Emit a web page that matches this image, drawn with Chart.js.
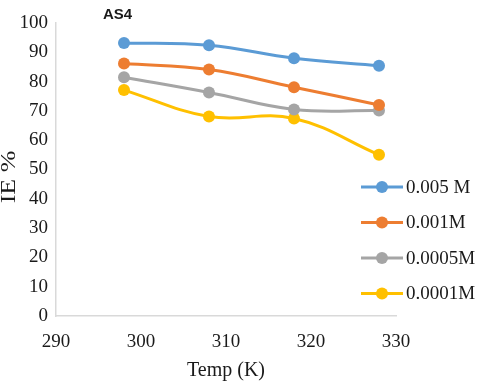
<!DOCTYPE html>
<html>
<head>
<meta charset="utf-8">
<script src="https://cdn.jsdelivr.net/npm/chart.js@4.4.1/dist/chart.umd.min.js"></script>
<style>
  html, body { margin: 0; padding: 0; background: #fff; }
  #wrap { width: 480px; height: 387px; }
</style>
</head>
<body>
<div id="wrap"><canvas id="chart" width="480" height="387"></canvas></div>
<script>
// temperatures (K)
var temps = [298, 308, 318, 328];
// inhibition efficiency (%) per concentration
var ie0005 = [93.2, 92.4, 88.0, 85.4];
var ie0001 = [86.2, 84.1, 78.1, 72.0];
var ie00005 = [81.5, 76.3, 70.5, 70.1];
var ie00001 = [77.1, 68.1, 67.4, 55.0];
var seriesNames = ['0.005 M', '0.001M', '0.0005M', '0.0001M'];
var xTicks = [290, 300, 310, 320, 330];
var yTicks = [0, 10, 20, 30, 40, 50, 60, 70, 80, 90, 100];

var COLORS = ['#5B9BD5', '#ED7D31', '#A5A5A5', '#FFC000'];
var SERIF = '"Liberation Serif", "Times New Roman", serif';

function toPoints(vals) {
  return vals.map(function (v, i) { return { x: temps[i], y: v }; });
}

function makeSet(label, vals, color) {
  return {
    label: label,
    data: toPoints(vals),
    borderColor: color,
    backgroundColor: color,
    borderWidth: 3,
    pointRadius: 6,
    pointHoverRadius: 6,
    pointBorderWidth: 0,
    tension: 0.4,
    fill: false,
  };
}

// title "AS4", y title and the legend drawn on top, placed like the original
var overlay = {
  id: 'overlay',
  afterDraw: function (chart) {
    var ctx = chart.ctx;
    ctx.save();
    ctx.fillStyle = '#1a1a1a';
    ctx.font = 'bold 15px "Liberation Sans", Arial, sans-serif';
    ctx.textBaseline = 'middle';
    ctx.textAlign = 'left';
    ctx.fillText('AS4', 103, 15);

    // y axis title
    ctx.save();
    ctx.translate(10, 177);
    ctx.rotate(-Math.PI / 2);
    ctx.scale(1.3, 1);
    ctx.textAlign = 'center';
    ctx.font = '20px ' + SERIF;
    ctx.fillText('IE %', 0, 0);
    ctx.restore();

    chart.data.datasets.forEach(function (ds, i) {
      var y = 187 + i * 35.5;
      ctx.strokeStyle = ds.borderColor;
      ctx.lineWidth = 3;
      ctx.beginPath();
      ctx.moveTo(361, y);
      ctx.lineTo(403, y);
      ctx.stroke();
      ctx.fillStyle = ds.borderColor;
      ctx.beginPath();
      ctx.arc(382, y, 6, 0, Math.PI * 2);
      ctx.fill();
      ctx.fillStyle = '#1a1a1a';
      ctx.font = '19px ' + SERIF;
      ctx.fillText(ds.label, 406, y + 1);
    });
    ctx.restore();
  }
};

new Chart(document.getElementById('chart'), {
  type: 'line',
  data: {
    datasets: [
      makeSet(seriesNames[0], ie0005, COLORS[0]),
      makeSet(seriesNames[1], ie0001, COLORS[1]),
      makeSet(seriesNames[2], ie00005, COLORS[2]),
      makeSet(seriesNames[3], ie00001, COLORS[3]),
    ],
  },
  options: {
    responsive: false,
    animation: false,
    layout: { padding: { top: 23, right: 84, bottom: 0, left: 0 } },
    plugins: {
      legend: { display: false },
      tooltip: { enabled: false },
    },
    scales: {
      x: {
        type: 'linear',
        min: xTicks[0], max: xTicks[xTicks.length - 1],
        afterBuildTicks: function (s) { s.ticks = xTicks.map(function (v) { return { value: v }; }); },
        grid: { display: false, drawTicks: false },
        border: { color: '#d9d9d9', width: 1.5 },
        ticks: { color: '#1a1a1a', padding: 15, maxRotation: 0, font: { family: SERIF, size: 19 } },
        title: { display: true, text: 'Temp (K)', color: '#1a1a1a', padding: { top: 9 }, font: { family: SERIF, size: 20 } },
        afterFit: function (s) { s.height = 71; },
      },
      y: {
        min: yTicks[0], max: yTicks[yTicks.length - 1],
        afterBuildTicks: function (s) { s.ticks = yTicks.map(function (v) { return { value: v }; }); },
        grid: { display: false, drawTicks: false },
        border: { color: '#d9d9d9', width: 1.5 },
        ticks: { color: '#1a1a1a', padding: 8, font: { family: SERIF, size: 19 } },
        afterFit: function (s) { s.width = 56; },
      },
    },
  },
  plugins: [overlay],
});
</script>
</body>
</html>
